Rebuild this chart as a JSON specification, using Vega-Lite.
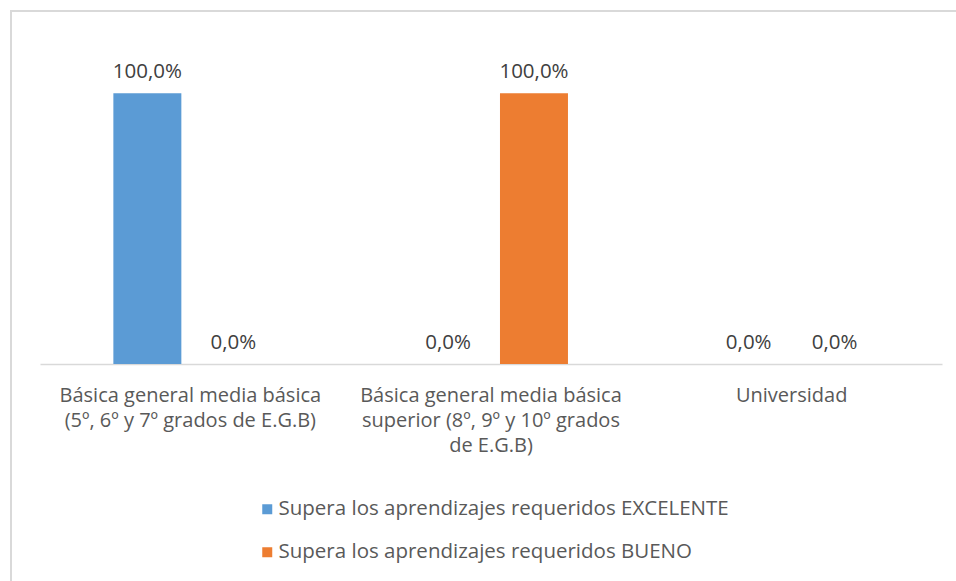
{
  "$schema": "https://vega.github.io/schema/vega-lite/v6.json",
  "autosize": {"type": "none"},
  "padding": {"left": 11, "top": 11, "right": 0, "bottom": 0},
  "width": 950,
  "height": 575,
  "background": "white",
  "config": {
    "locale": {"number": {"decimal": ",", "thousands": ".", "grouping": [3], "currency": ["", " €"]}},
    "font": "Open Sans",
    "view": {"stroke": "#D9D9D9", "strokeWidth": 2}
  },
  "data": {
    "values": [
      {"nivel": "Básica general media básica|(5º, 6º y 7º grados de E.G.B)", "serie": "Supera los aprendizajes requeridos EXCELENTE", "valor": 1},
      {"nivel": "Básica general media básica|(5º, 6º y 7º grados de E.G.B)", "serie": "Supera los aprendizajes requeridos BUENO", "valor": 0},
      {"nivel": "Básica general media básica|superior (8º, 9º y 10º grados|de E.G.B)", "serie": "Supera los aprendizajes requeridos EXCELENTE", "valor": 0},
      {"nivel": "Básica general media básica|superior (8º, 9º y 10º grados|de E.G.B)", "serie": "Supera los aprendizajes requeridos BUENO", "valor": 1},
      {"nivel": "Universidad", "serie": "Supera los aprendizajes requeridos EXCELENTE", "valor": 0},
      {"nivel": "Universidad", "serie": "Supera los aprendizajes requeridos BUENO", "valor": 0}
    ]
  },
  "encoding": {
    "x": {
      "field": "nivel", "type": "nominal", "sort": null,
      "scale": {"range": [29, 931], "paddingInner": 0.428, "paddingOuter": 0.214},
      "axis": {
        "title": null, "orient": "bottom", "offset": -222,
        "domainColor": "#D9D9D9", "domainWidth": 1.5, "ticks": false,
        "labelAngle": 0, "labelFont": "Open Sans", "labelFontSize": 20, "labelColor": "#595959",
        "labelPadding": 21, "labelLineHeight": 25, "labelLimit": 400,
        "labelExpr": "split(datum.label, '|')"
      }
    },
    "xOffset": {
      "field": "serie", "type": "nominal",
      "sort": ["Supera los aprendizajes requeridos EXCELENTE", "Supera los aprendizajes requeridos BUENO"],
      "scale": {"paddingInner": 0.209, "paddingOuter": 0.105}
    },
    "y": {
      "field": "valor", "type": "quantitative",
      "scale": {"domain": [0, 1.2], "range": [353, 28], "nice": false, "zero": true},
      "axis": null
    }
  },
  "layer": [
    {
      "mark": {"type": "bar"},
      "encoding": {
        "color": {
          "field": "serie", "type": "nominal",
          "sort": ["Supera los aprendizajes requeridos EXCELENTE", "Supera los aprendizajes requeridos BUENO"],
          "scale": {"domain": ["Supera los aprendizajes requeridos EXCELENTE", "Supera los aprendizajes requeridos BUENO"], "range": ["#5B9BD5", "#ED7D31"]},
          "legend": {
            "title": null, "orient": "none", "legendX": 246, "legendY": 488,
            "direction": "vertical", "columns": 1, "padding": 0,
            "symbolType": "square", "symbolSize": 100, "symbolStrokeWidth": 0,
            "labelFont": "Open Sans", "labelFontSize": 20.5, "labelColor": "#595959",
            "labelOffset": 1, "rowPadding": 22, "labelLimit": 700
          }
        }
      }
    },
    {
      "mark": {"type": "text", "font": "Open Sans", "fontSize": 20.5, "color": "#404040", "baseline": "middle", "dy": -21},
      "encoding": {
        "text": {"field": "valor", "type": "quantitative", "format": ".1%"}
      }
    }
  ]
}
